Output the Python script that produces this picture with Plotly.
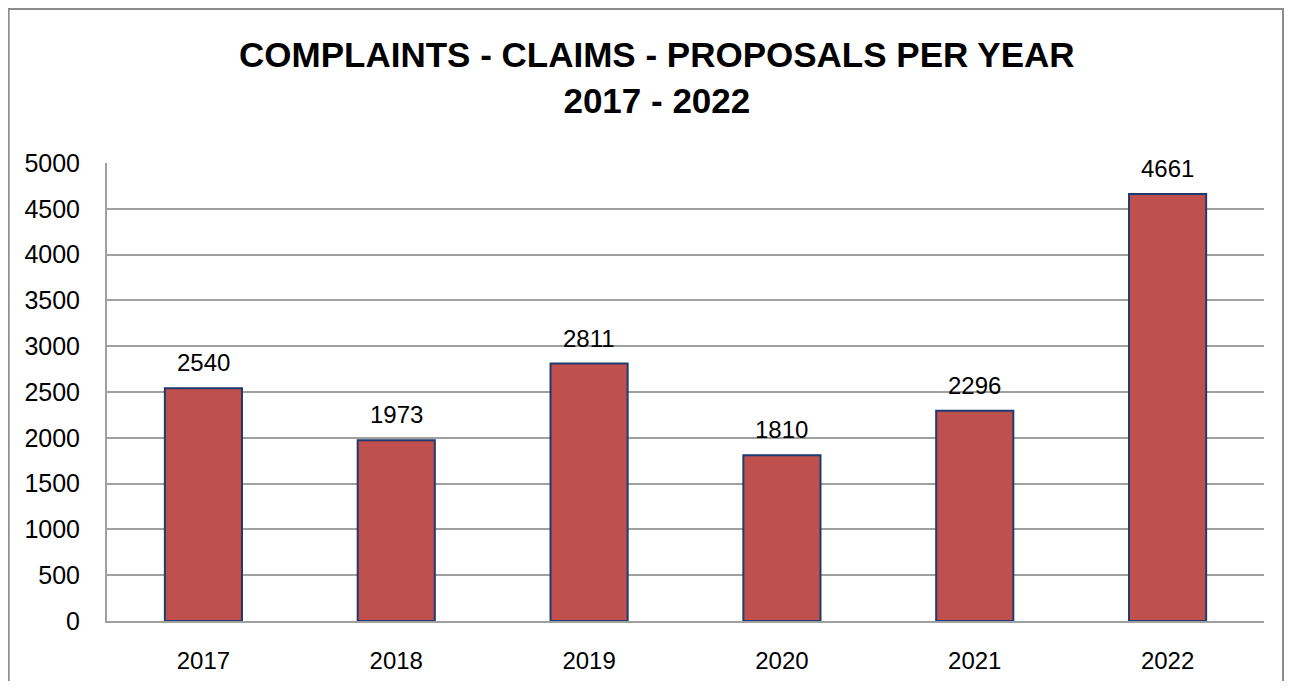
import plotly.graph_objects as go

years = ["2017", "2018", "2019", "2020", "2021", "2022"]
counts = [2540, 1973, 2811, 1810, 2296, 4661]
y_ticks = [0, 500, 1000, 1500, 2000, 2500, 3000, 3500, 4000, 4500, 5000]

font_family = "Liberation Sans, Arial, sans-serif"

fig = go.Figure()
fig.add_trace(go.Bar(
    x=years,
    y=counts,
    marker=dict(color="#C0504D", line=dict(color="#1F3A6E", width=2)),
    hoverinfo="x+y",
))

# value labels above each bar (x given as category index)
for i, val in enumerate(counts):
    fig.add_annotation(
        x=i, y=val, text=str(val), showarrow=False,
        yanchor="bottom", yshift=10,
        font=dict(family=font_family, size=24, color="#000000"),
    )

# outer chart border
fig.add_shape(
    type="rect", xref="paper", yref="paper",
    x0=-0.0850, x1=1.0164, y0=-0.2, y1=1.3362,
    line=dict(color="#8C8C8C", width=2), fillcolor="rgba(0,0,0,0)",
    layer="below",
)

fig.update_layout(
    title=dict(
        text="COMPLAINTS - CLAIMS - PROPOSALS PER YEAR<br>2017 - 2022",
        x=0.5085, xanchor="center", y=1 - 59 / 673, yanchor="middle",
        font=dict(family=font_family, size=35, color="#000000", weight="bold"),
    ),
    width=1276,
    height=673,
    margin=dict(l=99, r=20, t=155, b=60),
    plot_bgcolor="white",
    paper_bgcolor="white",
    bargap=0.6,
    showlegend=False,
    xaxis=dict(
        type="category",
        range=[-0.5, len(years) - 0.5],
        automargin=False,
        showgrid=False,
        showline=True, linecolor="#A0A0A0", linewidth=2,
        ticks="", ticklabelstandoff=17,
        tickfont=dict(family=font_family, size=24, color="#000000"),
    ),
    yaxis=dict(
        range=[0, 5000],
        tickvals=y_ticks,
        automargin=False,
        showgrid=True, gridcolor="#A0A0A0", gridwidth=2,
        zeroline=False,
        showline=True, linecolor="#A0A0A0", linewidth=2,
        ticks="", ticklabelstandoff=20,
        tickfont=dict(family=font_family, size=25, color="#000000"),
    ),
)

fig.write_html("out.html")
